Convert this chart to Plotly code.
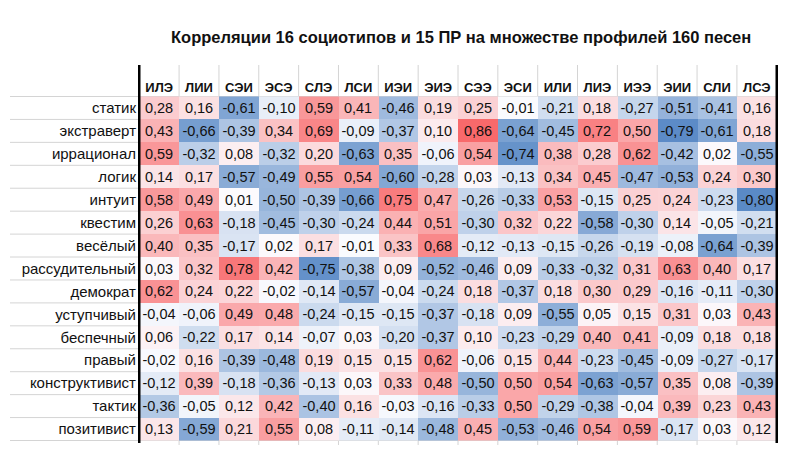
import numpy as np
import plotly.graph_objects as go

# 16 socionic types (columns) and 15 Reinin traits (rows)
types = ["ИЛЭ", "ЛИИ", "СЭИ", "ЭСЭ", "СЛЭ", "ЛСИ", "ИЭИ", "ЭИЭ",
         "СЭЭ", "ЭСИ", "ИЛИ", "ЛИЭ", "ИЭЭ", "ЭИИ", "СЛИ", "ЛСЭ"]
traits = ["статик", "экстраверт", "иррационал", "логик", "интуит", "квестим",
          "весёлый", "рассудительный", "демократ", "уступчивый", "беспечный",
          "правый", "конструктивист", "тактик", "позитивист"]

static = [0.28, 0.16, -0.61, -0.10, 0.59, 0.41, -0.46, 0.19, 0.25, -0.01, -0.21, 0.18, -0.27, -0.51, -0.41, 0.16]
extravert = [0.43, -0.66, -0.39, 0.34, 0.69, -0.09, -0.37, 0.10, 0.86, -0.64, -0.45, 0.72, 0.50, -0.79, -0.61, 0.18]
irrational = [0.59, -0.32, 0.08, -0.32, 0.20, -0.63, 0.35, -0.06, 0.54, -0.74, 0.38, 0.28, 0.62, -0.42, 0.02, -0.55]
logic = [0.14, 0.17, -0.57, -0.49, 0.55, 0.54, -0.60, -0.28, 0.03, -0.13, 0.34, 0.45, -0.47, -0.53, 0.24, 0.30]
intuit = [0.58, 0.49, 0.01, -0.50, -0.39, -0.66, 0.75, 0.47, -0.26, -0.33, 0.53, -0.15, 0.25, 0.24, -0.23, -0.80]
questim = [0.26, 0.63, -0.18, -0.45, -0.30, -0.24, 0.44, 0.51, -0.30, 0.32, 0.22, -0.58, -0.30, 0.14, -0.05, -0.21]
merry = [0.40, 0.35, -0.17, 0.02, 0.17, -0.01, 0.33, 0.68, -0.12, -0.13, -0.15, -0.26, -0.19, -0.08, -0.64, -0.39]
serious = [0.03, 0.32, 0.78, 0.42, -0.75, -0.38, 0.09, -0.52, -0.46, 0.09, -0.33, -0.32, 0.31, 0.63, 0.40, 0.17]
democrat = [0.62, 0.24, 0.22, -0.02, -0.14, -0.57, -0.04, -0.24, 0.18, -0.37, 0.18, 0.30, 0.29, -0.16, -0.11, -0.30]
yielding = [-0.04, -0.06, 0.49, 0.48, -0.24, -0.15, -0.15, -0.37, -0.18, 0.09, -0.55, 0.05, 0.15, 0.31, 0.03, 0.43]
carefree = [0.06, -0.22, 0.17, 0.14, -0.07, 0.03, -0.20, -0.37, 0.10, -0.23, -0.29, 0.40, 0.41, -0.09, 0.18, 0.18]
right = [-0.02, 0.16, -0.39, -0.48, 0.19, 0.15, 0.15, 0.62, -0.06, 0.15, 0.44, -0.23, -0.45, -0.09, -0.27, -0.17]
constructivist = [-0.12, 0.39, -0.18, -0.36, -0.13, 0.03, 0.33, 0.48, -0.50, 0.50, 0.54, -0.63, -0.57, 0.35, 0.08, -0.39]
tactic = [-0.36, -0.05, 0.12, 0.42, -0.40, 0.16, -0.03, -0.16, -0.33, 0.50, -0.29, -0.38, -0.04, 0.39, 0.23, 0.43]
positivist = [0.13, -0.59, 0.21, 0.55, 0.08, -0.11, -0.14, -0.48, 0.45, -0.53, -0.46, 0.54, 0.59, -0.17, 0.03, 0.12]

z = np.array([static, extravert, irrational, logic, intuit, questim, merry, serious,
              democrat, yielding, carefree, right, constructivist, tactic, positivist])

W, H = 795, 463
OFF = 8  # default body margin of the page shifts the figure by 8px
# table geometry in screen pixels, converted to figure pixels
left_px, right_px = 138 - OFF, 778 - OFF
head_top_px, data_top_px, data_bot_px = 65 - OFF, 96 - OFF, 441 - OFF
x0d, x1d = left_px / W, right_px / W
y0d, y1d = 1 - data_bot_px / H, 1 - data_top_px / H
head_top = 1 - head_top_px / H

# excel-like 3 colour scale, white at zero
zmin, zmax = z.min(), z.max()
mid = (0 - zmin) / (zmax - zmin)
colorscale = [[0, "#5A8AC6"], [mid, "#FCFCFF"], [1, "#F8696B"]]

fig = go.Figure(go.Heatmap(
    z=z, x=types, y=traits,
    zmin=zmin, zmax=zmax, colorscale=colorscale, showscale=False,
    texttemplate="%{z:.2f}",
    textfont=dict(family="Liberation Sans, Arial", size=14.5, color="#111111"),
    hoverinfo="skip",
))

line_grey = "#d4d4d4"
shapes = []
# horizontal row separators (label area + header bottom)
for i in range(len(traits) + 1):
    shapes.append(dict(type="line", xref="paper", yref="y",
                       x0=(10 - OFF) / W, x1=x1d, y0=i - 0.5, y1=i - 0.5,
                       line=dict(color=line_grey, width=1), layer="below"))
# vertical separators in header and small ticks below the table
for j in range(1, len(types)):
    shapes.append(dict(type="line", xref="x", yref="paper",
                       x0=j - 0.5, x1=j - 0.5, y0=y1d, y1=head_top,
                       line=dict(color=line_grey, width=1)))
    shapes.append(dict(type="line", xref="x", yref="paper",
                       x0=j - 0.5, x1=j - 0.5, y0=y0d - 4 / H, y1=y0d,
                       line=dict(color=line_grey, width=1)))
# black frame lines left and right
for xb in (-0.5, len(types) - 0.5):
    shapes.append(dict(type="line", xref="x", yref="paper",
                       x0=xb, x1=xb, y0=y0d - 2 / H, y1=head_top,
                       line=dict(color="black", width=2.5)))

fig.update_layout(
    width=W, height=H,
    margin=dict(l=0, r=0, t=0, b=0),
    paper_bgcolor="white", plot_bgcolor="white",
    separators=", ",
    font=dict(family="Liberation Sans, Arial", color="#111111"),
    xaxis=dict(domain=[x0d, x1d], side="top", showgrid=False, zeroline=False,
               ticks="", tickfont=dict(size=13, family="Liberation Sans, Arial", weight="bold"),
               fixedrange=True),
    yaxis=dict(domain=[y0d, y1d], autorange="reversed", showgrid=False, zeroline=False,
               ticks="", tickfont=dict(size=15), ticklabelstandoff=1, fixedrange=True),
    shapes=shapes,
    annotations=[dict(
        text="<b>Корреляции 16 социотипов и 15 ПР на множестве профилей 160 песен</b>",
        x=(461 - OFF) / W, y=1 - (37 - OFF) / H, xref="paper", yref="paper",
        xanchor="center", yanchor="middle", showarrow=False,
        font=dict(size=16.5, family="Liberation Sans, Arial", color="#111111"),
    )],
)

fig.write_html("out.html")
